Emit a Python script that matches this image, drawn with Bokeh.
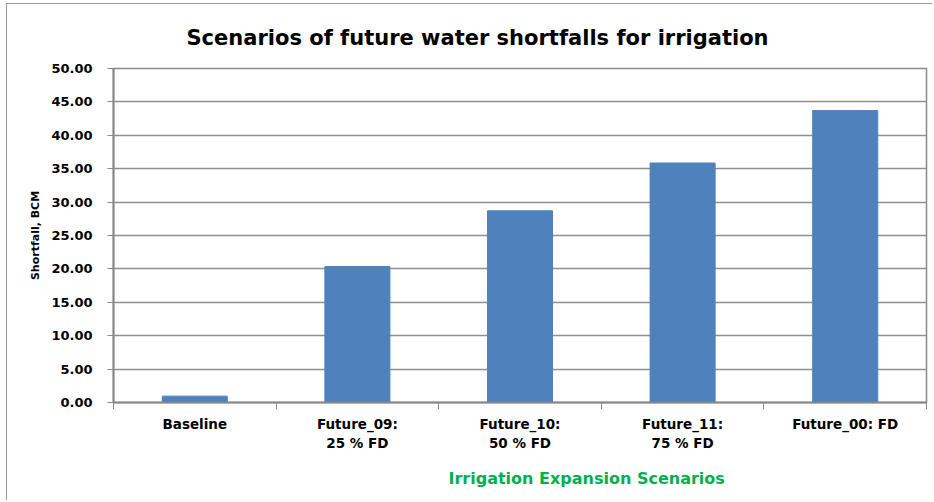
from bokeh.plotting import figure
from bokeh.models import FixedTicker, Title, Range1d, ColumnDataSource
from bokeh.embed import file_html
from bokeh.resources import INLINE

categories = ["Baseline", "Future_09:\n25 % FD", "Future_10:\n50 % FD", "Future_11:\n75 % FD", "Future_00: FD"]
shortfall = [0.95, 20.35, 28.7, 35.85, 43.7]
y_ticks = [0, 5, 10, 15, 20, 25, 30, 35, 40, 45, 50]
title_text = "Scenarios of future water shortfalls for irrigation"
x_title = "Irrigation Expansion Scenarios"
y_title = "Shortfall, BCM"

FONT = "DejaVu Sans"
xs = [i + 0.5 for i in range(len(categories))]
src = ColumnDataSource(dict(x=xs, top=shortfall))

p = figure(width=926, height=497, output_backend="svg", toolbar_location=None,
           x_range=Range1d(0, len(categories)), y_range=Range1d(0, 50),
           min_border_left=106, min_border_right=7, min_border_top=64, min_border_bottom=99)
p.styles = {"border-left": "1px solid #999999", "border-top": "1px solid #999999",
            "margin-left": "6px", "margin-top": "3px"}

p.vbar(x="x", top="top", width=0.4, source=src, fill_color="#4f81bd", line_color="#4f81bd")

p.outline_line_color = "#888888"
p.outline_line_width = 1.5

# y axis
p.yaxis.ticker = FixedTicker(ticks=y_ticks)
p.yaxis.major_label_overrides = {t: f"{t:.2f}" for t in y_ticks}
p.yaxis.major_label_text_font = FONT
p.yaxis.major_label_text_font_style = "bold"
p.yaxis.major_label_text_font_size = "13px"
p.yaxis.major_label_text_color = "#000000"
p.yaxis.axis_line_color = "#888888"
p.yaxis.axis_line_width = 2
p.yaxis.major_tick_line_color = "#888888"
p.yaxis.major_tick_out = 6
p.yaxis.major_tick_in = 0
p.yaxis.minor_tick_line_color = None
p.yaxis.major_label_standoff = 15
p.yaxis.axis_label = y_title
p.yaxis.axis_label_text_font = FONT
p.yaxis.axis_label_text_font_style = "bold"
p.yaxis.axis_label_text_font_size = "11px"
p.yaxis.axis_label_text_color = "#000000"
p.yaxis.axis_label_standoff = 6

# x axis
p.xaxis.ticker = FixedTicker(ticks=xs, minor_ticks=list(range(len(categories) + 1)))
p.xaxis.major_label_overrides = {x: c for x, c in zip(xs, categories)}
p.xaxis.major_label_text_font = FONT
p.xaxis.major_label_text_font_style = "bold"
p.xaxis.major_label_text_font_size = "13.5px"
p.xaxis.major_label_text_color = "#000000"
p.xaxis.major_label_standoff = 6
p.xaxis.major_tick_line_color = None
p.xaxis.minor_tick_line_color = "#888888"
p.xaxis.minor_tick_out = 7
p.xaxis.minor_tick_in = 0
p.xaxis.axis_line_color = "#888888"
p.xaxis.axis_line_width = 2

p.xgrid.grid_line_color = None
p.ygrid.ticker = FixedTicker(ticks=y_ticks)
p.ygrid.grid_line_color = "#909090"
p.ygrid.grid_line_width = 1.5

p.add_layout(Title(text=title_text, align="left", offset=73, text_font=FONT,
                   text_font_style="bold", text_font_size="21px", text_color="#000000",
                   standoff=38), "above")
p.add_layout(Title(text=x_title, align="left", offset=335, text_font=FONT,
                   text_font_style="bold", text_font_size="16px", text_color="#00b050",
                   standoff=27), "below")

open("out.html", "w").write(file_html(p, INLINE))
